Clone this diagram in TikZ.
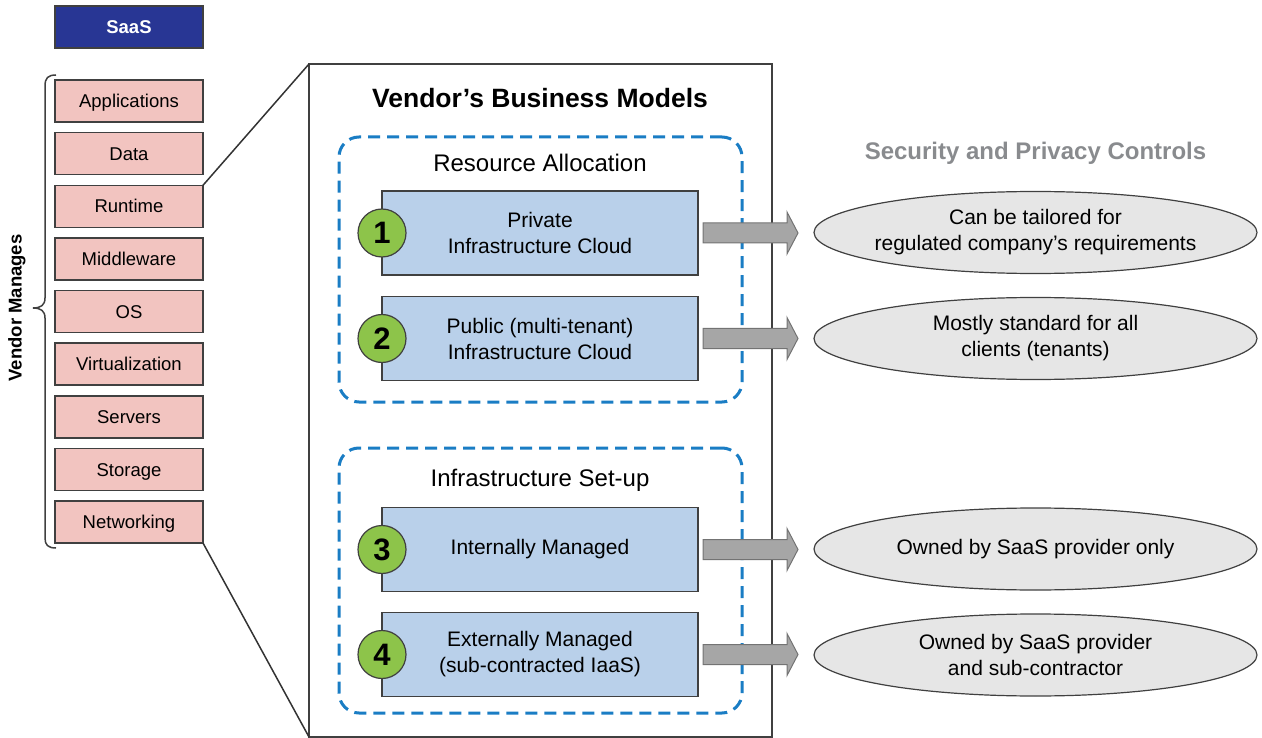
\documentclass[tikz,border=0pt]{standalone}
\usepackage{fontspec}
\setmainfont{Liberation Sans}
\usetikzlibrary{shapes.geometric,calc}
\definecolor{saasblue}{RGB}{40,54,148}
\definecolor{layerpink}{RGB}{242,196,192}
\definecolor{modelblue}{RGB}{185,208,234}
\definecolor{numgreen}{RGB}{141,196,74}
\definecolor{ctrlgray}{RGB}{230,230,230}
\definecolor{dashblue}{RGB}{26,125,196}
\definecolor{arrowgray}{RGB}{166,166,166}
\definecolor{edgegray}{RGB}{64,64,64}
\definecolor{headgray}{RGB}{137,139,142}
\begin{document}
\begin{tikzpicture}[x=1pt,y=-1pt,
  saasbox/.style={draw=edgegray,line width=1.2pt,fill=saasblue,text=white,minimum width=148pt,minimum height=42pt,inner sep=0pt,outer sep=0pt,text height=13.3pt,text depth=0pt,font=\fontsize{18.5}{22}\selectfont\bfseries},
  layerbox/.style={draw=edgegray,line width=1.5pt,fill=layerpink,minimum width=148pt,minimum height=42pt,inner sep=0pt,outer sep=0pt,text height=13.3pt,text depth=0pt,font=\fontsize{18.5}{22}\selectfont},
  bigbox/.style={draw=edgegray,line width=1.5pt,minimum width=463pt,minimum height=673pt,inner sep=0pt,outer sep=0pt},
  groupbox/.style={draw=dashblue,line width=3pt,dash pattern=on 12pt off 7pt,rounded corners=20pt,minimum width=403pt,minimum height=265pt,inner sep=0pt,outer sep=0pt},
  modelbox/.style={draw=edgegray,line width=1.5pt,fill=modelblue,minimum width=316pt,minimum height=84pt,inner sep=0pt,outer sep=0pt,align=center,font=\fontsize{21}{26}\selectfont},
  numdot/.style={circle,draw=edgegray,line width=1.2pt,fill=numgreen,minimum size=48pt,inner sep=0pt,font=\fontsize{31}{31}\selectfont\bfseries},
  ctrl/.style={ellipse,draw=edgegray,line width=1.2pt,fill=ctrlgray,minimum width=443pt,minimum height=82pt,inner xsep=-40pt,inner ysep=0pt,outer sep=0pt,align=center,font=\fontsize{21}{26}\selectfont},
  blockarrow/.style={fill=arrowgray,draw=gray!90!black,line width=1pt},
  link/.style={draw=edgegray!80!black,line width=1.5pt}
]
\useasboundingbox (0,0) rectangle (1262,738);

% SaaS and layers
\node[saasbox] (saas) at (129,27) {SaaS};
\node[layerbox] (app) at (129,101) {Applications};
\node[layerbox] (data) at (129,153.6) {Data};
\node[layerbox] (run) at (129,206.3) {Runtime};
\node[layerbox] (mid) at (129,258.9) {Middleware};
\node[layerbox] (os) at (129,311.5) {OS};
\node[layerbox] (virt) at (129,364.1) {Virtualization};
\node[layerbox] (serv) at (129,416.8) {Servers};
\node[layerbox] (stor) at (129,469.4) {Storage};
\node[layerbox] (net) at (129,522) {Networking};

% brace and label
\draw[edgegray,line width=1.5pt] (56,75) .. controls (48,75) and (45,78) .. (45,86)
  -- (45,298) .. controls (45,305) and (41,308) .. (33,308)
  .. controls (41,308) and (45,311) .. (45,318)
  -- (45,538) .. controls (45,545) and (48,548) .. (56,548);
\node[rotate=90,font=\fontsize{18.5}{22}\selectfont\bfseries] (vm) at (17,308) {Vendor Manages};

% big box
\node[bigbox] (big) at (540.5,400.5) {};
\draw[link] (run.north east) -- (big.north west);
\draw[link] (net.south east) -- (big.south west);

\node[font=\fontsize{26.5}{30}\selectfont\bfseries] (title) at (540,98) {Vendor’s Business Models};

% groups
\node[groupbox] (g1) at (540.5,269.5) {};
\node[groupbox] (g2) at (540.5,580.5) {};
\node[font=\fontsize{24}{28}\selectfont] (g1lab) at (540,163) {Resource Allocation};
\node[font=\fontsize{24}{28}\selectfont] (g2lab) at (540,480) {Infrastructure Set-up};

% model boxes
\node[modelbox] (m1) at (540,233) {Private\\Infrastructure Cloud};
\node[modelbox] (m2) at (540,338.5) {Public (multi-tenant)\\Infrastructure Cloud};
\node[modelbox] (m3) at (540,549.5) {Internally Managed};
\node[modelbox] (m4) at (540,654.5) {Externally Managed\\(sub-contracted IaaS)};

\foreach \i in {1,...,4} {
  \node[numdot] (n\i) at (m\i.west) {\i};
}

% heading
\node[font=\fontsize{24}{28}\selectfont\bfseries,text=headgray] (sec) at (1035.5,153) {Security and Privacy Controls};

% controls
\node[ctrl] (c1) at (1035.5,232.5) {Can be tailored for\\regulated company’s requirements};
\node[ctrl] (c2) at (1035.5,338.5) {Mostly standard for all\\clients (tenants)};
\node[ctrl] (c3) at (1035.5,549) {Owned by SaaS provider only};
\node[ctrl] (c4) at (1035.5,655) {Owned by SaaS provider\\and sub-contractor};

% block arrows
\foreach \i in {1,...,4} {
  \filldraw[blockarrow] ($(m\i.east)+(5,-10)$) -- ($(m\i.east)+(89,-10)$) -- ($(m\i.east)+(89,-21)$)
    -- ($(m\i.east)+(100,0)$) -- ($(m\i.east)+(89,21)$) -- ($(m\i.east)+(89,10)$)
    -- ($(m\i.east)+(5,10)$) -- cycle;
}
\end{tikzpicture}
\end{document}
